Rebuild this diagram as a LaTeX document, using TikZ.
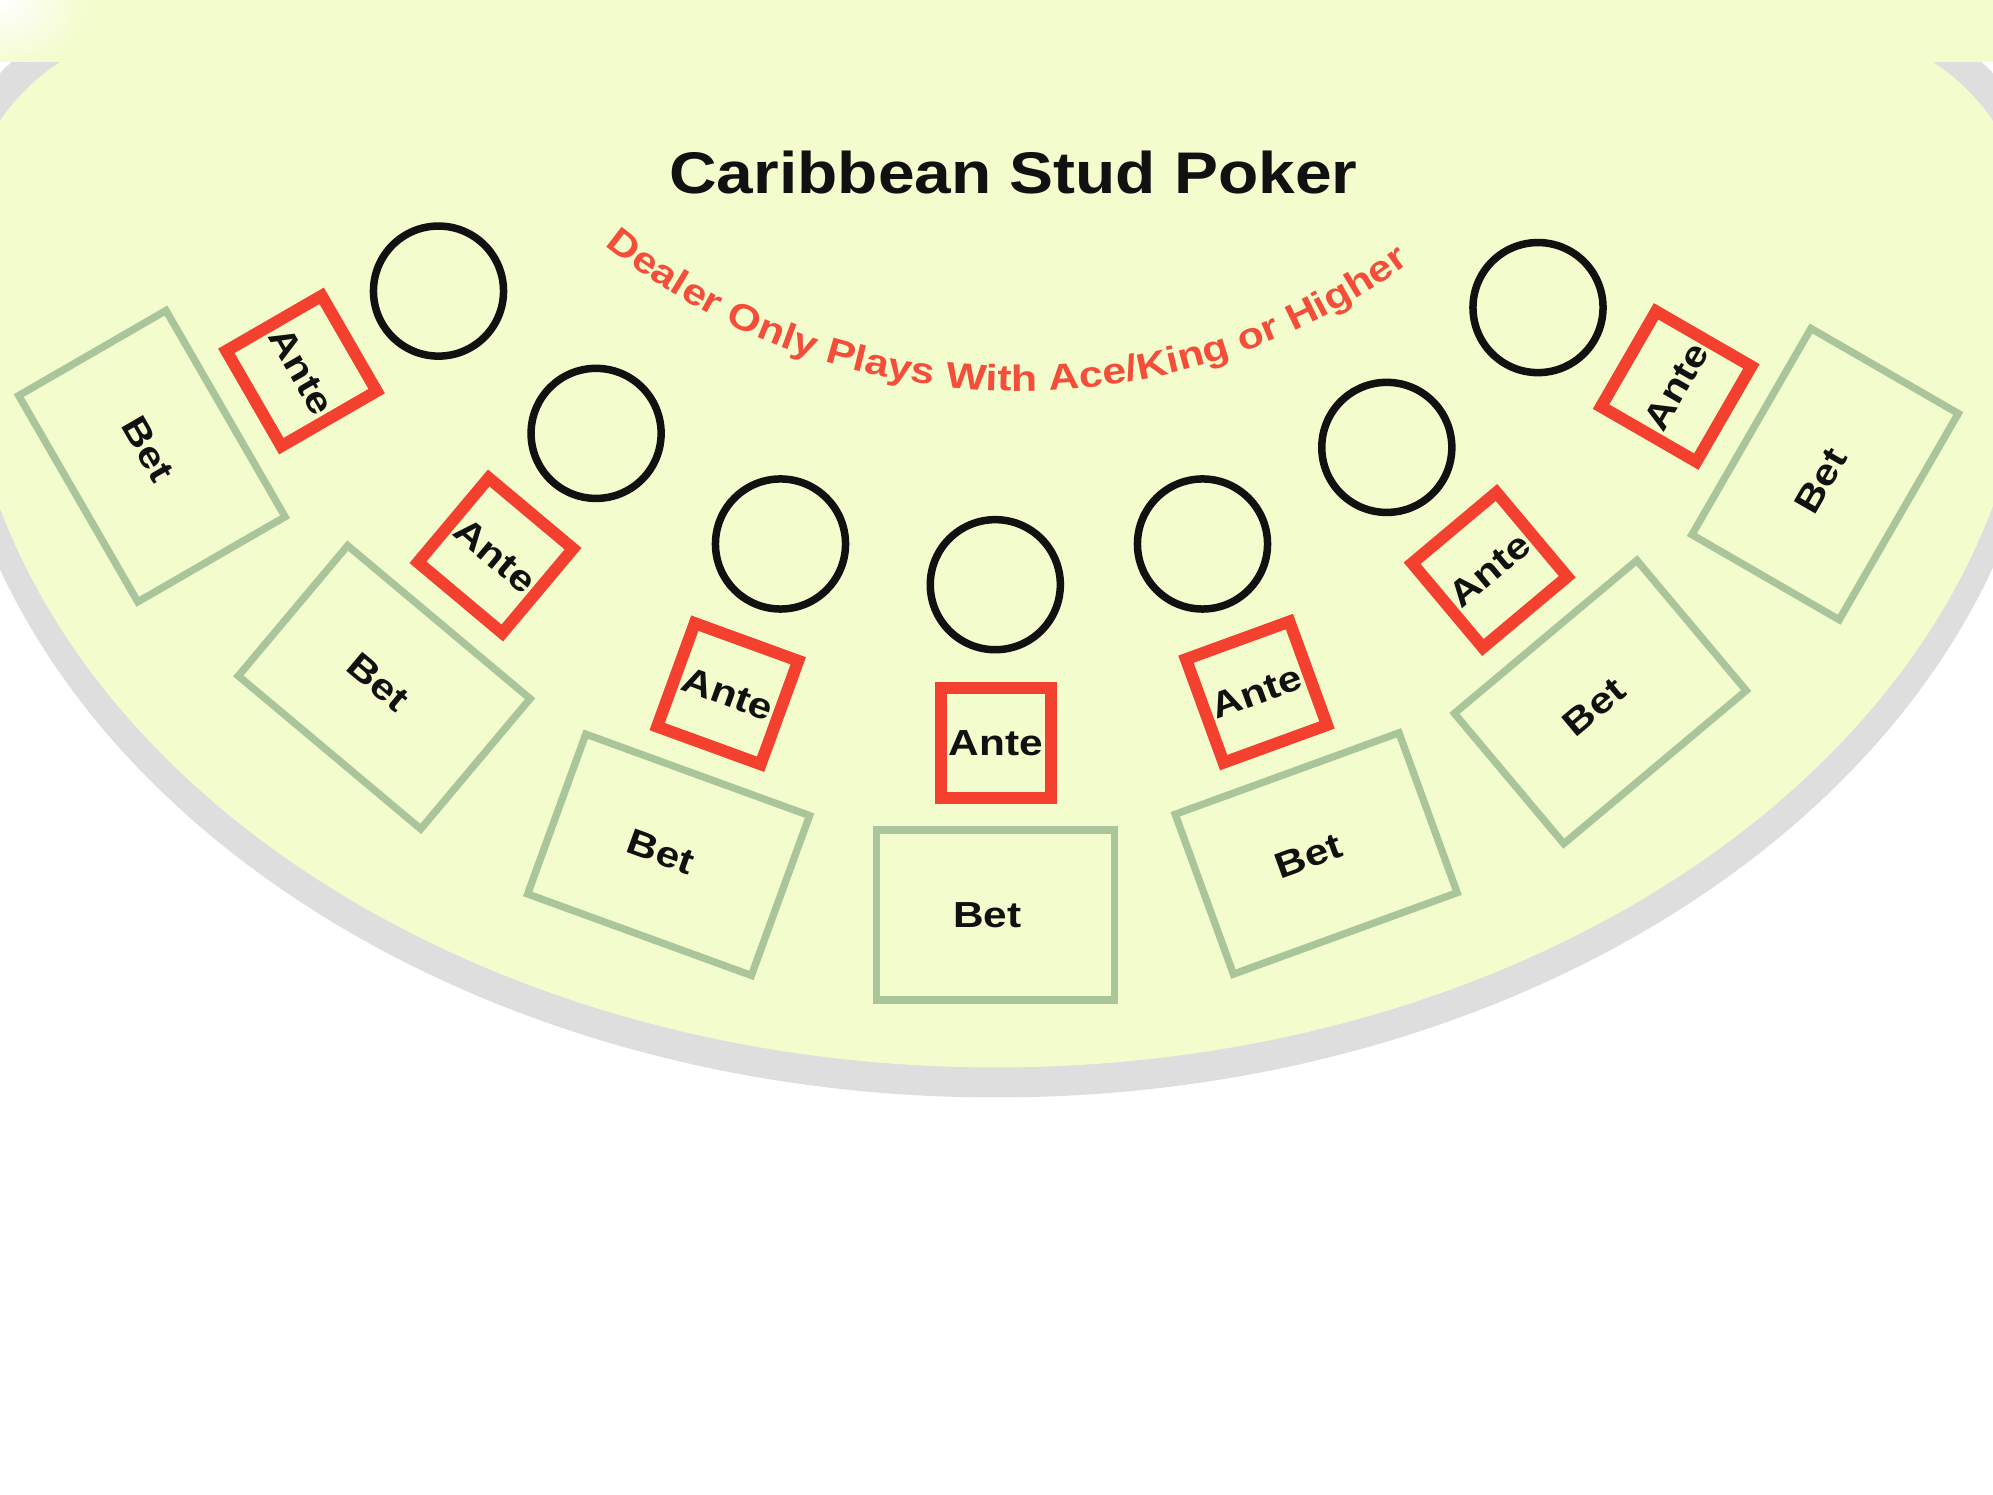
\documentclass[tikz,border=0pt]{standalone}
\usepackage{fontspec}
\newfontfamily\labfont[FakeStretch=1.17]{Liberation Sans}
\newfontfamily\headfont[FakeStretch=1.122]{Liberation Sans}
\usetikzlibrary{decorations.text}
\definecolor{tablecol}{RGB}{243,252,205}
\definecolor{shadowcol}{RGB}{222,222,222}
\definecolor{antered}{RGB}{244,64,46}
\definecolor{dealerred}{RGB}{244,78,58}
\definecolor{betgreen}{RGB}{170,197,155}
\definecolor{ink}{RGB}{17,17,17}
\begin{document}
\begin{tikzpicture}[x=0.01cm,y=-0.01cm,
  labtext/.style={font=\labfont\bfseries\fontsize{10.3}{12}\selectfont, text=ink},
  betbox/.style={labtext, draw=betgreen, line width=0.073cm, minimum width=2.38cm, minimum height=1.70cm, inner sep=0pt},
  antebox/.style={labtext, draw=antered, line width=0.12cm, minimum size=1.10cm, inner sep=0pt},
  chipspot/.style={circle, draw=ink, line width=0.075cm, minimum size=1.30cm, inner sep=0pt}]
\useasboundingbox (0,0) rectangle (1993,1495);
\fill[white] (0,0) rectangle (1993,1495);
% table shadow
\begin{scope}
  \clip[rounded corners=2.46cm] (-68,1600) -- (-68,-3) -- (2061,-3) -- (2061,1600) -- cycle;
  \fill[shadowcol] (996,310) ellipse [x radius=10.54cm, y radius=7.87cm];
\end{scope}
% table felt
\begin{scope}
  \clip[rounded corners=2.16cm] (-38,1600) -- (-38,27) -- (2031,27) -- (2031,1600) -- cycle;
  \fill[tablecol] (996,300) ellipse [x radius=10.34cm, y radius=7.67cm];
\end{scope}
\fill[tablecol] (0,0) rectangle (1993,62);
\begin{scope}
  \clip (0,0) rectangle (1993,62);
  \shade[inner color=white, outer color=tablecol] (0,0) ellipse [x radius=0.9cm, y radius=0.7cm];
\end{scope}
% title
\node[font=\headfont\bfseries\fontsize{16.7}{20}\selectfont, text=ink, anchor=base, inner sep=0pt] (title) at (1013.5,194) {Caribbean Stud Poker};
% curved text
\path[decorate, decoration={text along path, text align=center,
  text={|\labfont\bfseries\fontsize{10.4}{12}\selectfont\color{dealerred}|Dealer Only Plays With Ace/King or Higher}}]
  plot[domain=0:1, samples=100] ({1019+662*cos(136.1-89.8*\x)}, {-271+662*sin(136.1-89.8*\x)});
% chip circles
\node[chipspot] (c1) at (438.5,291.1) {};
\node[chipspot] (c2) at (596.1,433.4) {};
\node[chipspot] (c3) at (780.5,544.0) {};
\node[chipspot] (c4) at (995.3,584.7) {};
\node[chipspot] (c5) at (1202.5,544.0) {};
\node[chipspot] (c6) at (1386.8,447.4) {};
\node[chipspot] (c7) at (1538.0,307.6) {};
% ante boxes
\node[antebox, rotate=-60] (a1) at (301.5,371.0) {Ante};
\node[antebox, rotate=-40] (a2) at (495.5,555.5) {Ante};
\node[antebox, rotate=-20] (a3) at (727.7,693.7) {Ante};
\node[antebox] (a4) at (995.6,743.0) {Ante};
\node[antebox, rotate=20] (a5) at (1256.5,692.1) {Ante};
\node[antebox, rotate=40] (a6) at (1489.7,570.0) {Ante};
\node[antebox, rotate=60] (a7) at (1676.2,386.5) {Ante};
% bet boxes
\node[betbox, rotate=-60] (b1) at (151.9,456.2) {Bet\kern0.16cm};
\node[betbox, rotate=-40] (b2) at (384.2,687.3) {Bet\kern0.16cm};
\node[betbox, rotate=-20] (b3) at (668.6,854.8) {Bet\kern0.16cm};
\node[betbox] (b4) at (995.5,915.0) {Bet\kern0.16cm};
\node[betbox, rotate=20] (b5) at (1316.2,853.5) {Bet\kern0.16cm};
\node[betbox, rotate=40] (b6) at (1600.3,702.0) {Bet\kern0.16cm};
\node[betbox, rotate=60] (b7) at (1825.1,474.1) {Bet\kern0.16cm};
\end{tikzpicture}
\end{document}
